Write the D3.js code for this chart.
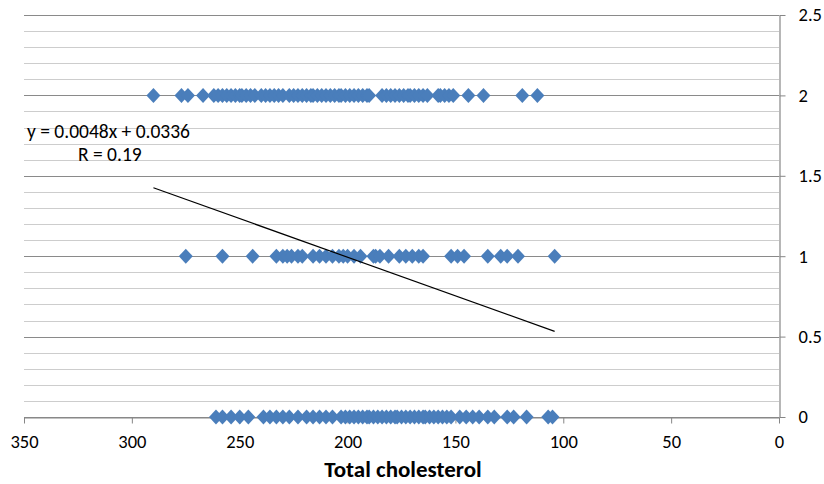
<!DOCTYPE html>
<html>
<head>
<meta charset="utf-8">
<script src="https://cdn.jsdelivr.net/npm/d3@7"></script>
<style>
  body { margin: 0; background: #fff; }
  text { font-family: Carlito, Calibri, "Open Sans", sans-serif; fill: #000; }
  .axis path, .axis line { stroke: #868686; }
  .axis text { font-size: 18.5px; }
</style>
</head>
<body>
<svg id="chart" width="824" height="484"></svg>
<script>
// cholesterol values, one array per outcome level
const group2 = [290, 277, 274, 267, 262, 260, 258, 256, 254, 252, 250, 249, 247, 245, 243,
  240, 238, 236, 234, 232, 230, 227, 225, 223, 221, 219, 217, 216, 214, 212, 210, 208, 206,
  204, 203, 201, 199, 197, 195, 193, 191, 190, 184, 182, 180, 178, 176, 174, 172, 171, 169,
  167, 165, 163, 158, 157, 155, 153, 151, 144, 137, 119, 112]
const group1 = [275, 258, 244, 233, 230, 228, 226, 223, 221, 216, 213, 210, 207, 204, 202,
  200, 197, 194, 188, 187, 185, 181, 176, 173, 170, 167, 165, 152, 149, 146, 135, 129, 126,
  121, 104]
const group0 = [261, 258, 254, 250, 246, 239, 236, 233, 230, 227, 223, 219, 216, 213, 210,
  207, 203, 201, 199, 197, 195, 193, 191, 190, 188, 186, 184, 182, 180, 178, 177, 175, 173,
  171, 169, 167, 165, 164, 162, 160, 158, 156, 154, 152, 148, 145, 142, 139, 135, 132, 126,
  123, 117, 107, 105]
const levels = [0, 1, 2]

const slope = 0.0048
const intercept = 0.0336
const eqLabel = "y = 0.0048x + 0.0336"
const rLabel = "R = 0.19"
const xTitle = "Total cholesterol"

const xTicks = [350, 300, 250, 200, 150, 100, 50, 0]
const yTicks = [0, 0.5, 1, 1.5, 2, 2.5]

const svg = d3.select("#chart")
const plot = {left: 24, right: 779, top: 15, bottom: 417}

const x = d3.scaleLinear().domain([350, 0]).range([plot.left, plot.right])
const y = d3.scaleLinear().domain([0, 2.5]).range([plot.bottom, plot.top])

// minor grid every 0.1, major every 0.5
const minor = d3.range(0, 26).map(i => i / 10)
svg.append("g").selectAll("line")
  .data(minor)
  .enter().append("line")
    .attr("x1", plot.left).attr("x2", plot.right)
    .attr("y1", d => Math.round(y(d)) + 0.5)
    .attr("y2", d => Math.round(y(d)) + 0.5)
    .attr("stroke", d => (Math.round(d * 10) % 5 == 0) ? "#8a8a8a" : "#cdcdcd")
    .attr("stroke-width", 1.2)

// x axis
const xAxis = svg.append("g")
  .attr("class", "axis")
  .attr("transform", "translate(0," + (Math.round(y(0)) + 0.5) + ")")
  .call(d3.axisBottom(x).tickValues(xTicks).tickSize(6).tickSizeOuter(0).tickPadding(11))
xAxis.select(".domain").attr("stroke-width", 1.2)

// y axis on the right
const yAxis = svg.append("g")
  .attr("class", "axis")
  .attr("transform", "translate(" + (Math.round(x(0)) + 0.5) + ",0)")
  .call(d3.axisRight(y).tickValues(yTicks).tickFormat(d => String(d))
    .tickSize(6).tickSizeOuter(0).tickPadding(13))
yAxis.select(".domain").attr("stroke-width", 1.2)

// points
const diamond = "M0,-7.5L7,0L0,7.5L-7,0Z"
const points = []
levels.forEach(lv => {
  const arr = lv == 0 ? group0 : (lv == 1 ? group1 : group2)
  arr.forEach(v => points.push({ x: v, y: lv }))
})
svg.append("g").selectAll("path")
  .data(points)
  .enter().append("path")
    .attr("d", diamond)
    .attr("transform", d => "translate(" + x(d.x) + "," + y(d.y) + ")")
    .attr("fill", "#4a7ebb")

// linear trendline over the data range
const ext = d3.extent(points, d => d.x)
svg.append("line")
  .attr("x1", x(ext[1])).attr("y1", y(slope * ext[1] + intercept))
  .attr("x2", x(ext[0])).attr("y2", y(slope * ext[0] + intercept))
  .attr("stroke", "#000")
  .attr("stroke-width", 1.2)

svg.append("text")
  .attr("x", 27).attr("y", 138)
  .style("font-size", "19.5px")
  .text(eqLabel)
svg.append("text")
  .attr("x", 78).attr("y", 161)
  .style("font-size", "19.5px")
  .text(rLabel)

svg.append("text")
  .attr("x", 403).attr("y", 477)
  .attr("text-anchor", "middle")
  .style("font-size", "23px")
  .style("font-weight", "bold")
  .text(xTitle)
</script>
</body>
</html>
